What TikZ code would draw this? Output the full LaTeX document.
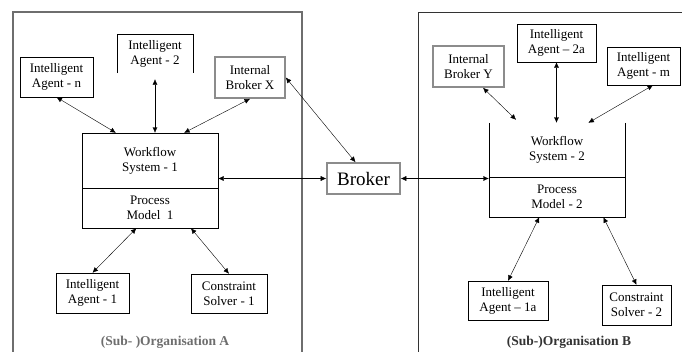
\documentclass[tikz,border=0pt]{standalone}
\usepackage{fontspec}
\setmainfont{Liberation Serif}
\usetikzlibrary{calc,arrows.meta}
\definecolor{orggray}{RGB}{110,110,110}
\definecolor{brkgray}{RGB}{140,140,140}

\begin{document}
\begin{tikzpicture}[x=1pt,y=-1pt,
  font=\fontsize{13}{15}\selectfont,
  agent/.style={draw,thin,align=center,inner sep=0pt},
  brk/.style={draw=brkgray,line width=1.6pt,align=center,inner sep=0pt},
  link/.style={thin,{Latex[length=5.5pt,width=5pt]}-{Latex[length=5.5pt,width=5pt]}},
  orglabel/.style={font=\fontsize{13.5}{15}\selectfont\bfseries}]

\useasboundingbox (0,0) rectangle (682,351);

% organisation frames (open at the bottom)
\draw[orggray,line width=1.4pt] (13,352) -- (13,12) -- (302,12) -- (302,352);
\draw[black!80,thin] (418,352) -- (418,12) -- (683,12);

% organisation A
\node[agent,minimum width=73,minimum height=40] (agn) at (56.5,77) {Intelligent\\Agent - n};
\node[align=center,inner sep=0pt,minimum width=76,minimum height=39] (ag2) at (155,53.5) {Intelligent\\Agent - 2};
\draw[thin] (ag2.south west) -- (ag2.north west) -- (ag2.north east) -- (ag2.south east);
\node[brk,minimum width=70,minimum height=41] (bkx) at (250,77.5) {Internal\\Broker X};
\node[agent,minimum width=136,minimum height=55] (ws1) at (150,160.5) {Workflow\\System - 1};
\node[agent,minimum width=136,minimum height=40] (pm1) at (150,208) {Process\\Model\ \ 1};
\node[agent,minimum width=73,minimum height=40] (ia1) at (92.5,293) {Intelligent\\Agent - 1};
\node[agent,minimum width=76,minimum height=39] (cs1) at (229,293.5) {Constraint\\Solver - 1};
\node[orglabel,text=orggray] (orga) at (165,342) {(Sub- )Organisation A};

% central broker
\node[brk,minimum width=73,minimum height=31,font=\fontsize{19}{21}\selectfont] (broker) at (363.5,178.5) {Broker};

% organisation B
\node[brk,minimum width=71,minimum height=41] (bky) at (468.5,66.5) {Internal\\Broker Y};
\node[agent,minimum width=79,minimum height=38] (ag2a) at (556.5,43) {Intelligent\\Agent -- 2a};
\node[agent,minimum width=73,minimum height=38] (agm) at (643.5,66) {Intelligent\\Agent - m};
\node[align=center,inner sep=0pt,minimum width=136,minimum height=54] (ws2) at (557,150) {Workflow\\System - 2};
\draw[thin] (ws2.north west) -- (ws2.south west) (ws2.north east) -- (ws2.south east);
\node[agent,minimum width=136,minimum height=40] (pm2) at (557,197) {Process\\Model - 2};
\node[agent,minimum width=80,minimum height=39] (ia1a) at (508,300.5) {Intelligent\\Agent -- 1a};
\node[agent,minimum width=69,minimum height=40] (cs2) at (636.5,305) {Constraint\\Solver - 2};
\node[orglabel,text=black!80] (orgb) at (569,342) {(Sub-)Organisation B};

% links inside organisation A
\draw[link] (agn.south) -- ($(ws1.north west)!0.25!(ws1.north east)$);
\draw[link] ($(ag2.south)+(0,6)$) -- (ag2.south |- ws1.north);
\draw[link] (bkx.south) -- ($(ws1.north west)!0.75!(ws1.north east)$);
\draw[link] ($(pm1.south west)!0.4!(pm1.south east)$) -- (ia1.north);
\draw[link] ($(pm1.south west)!0.8!(pm1.south east)$) -- (cs1.north);

% links through the broker
\draw[link] (broker.west -| ws1.east) -- (broker.west);
\draw[link] (bkx.east) -- ($(broker.north)+(-8,0)$);
\draw[link] (broker.east) -- (broker.east -| pm2.west);

% links inside organisation B
\draw[link] ($(bky.south west)!0.7!(bky.south east)$) -- ($(ws2.north west)!0.2!(ws2.north east)+(0,-3)$);
\draw[link] (ag2a.south) -- (ag2a.south |- ws2.north);
\draw[link] ($(agm.south west)!0.63!(agm.south east)$) -- ($(ws2.north west)!0.73!(ws2.north east)$);
\draw[link] ($(pm2.south west)!0.37!(pm2.south east)$) -- (ia1a.north);
\draw[link] ($(pm2.south west)!0.84!(pm2.south east)$) -- (cs2.north);
\end{tikzpicture}
\end{document}
